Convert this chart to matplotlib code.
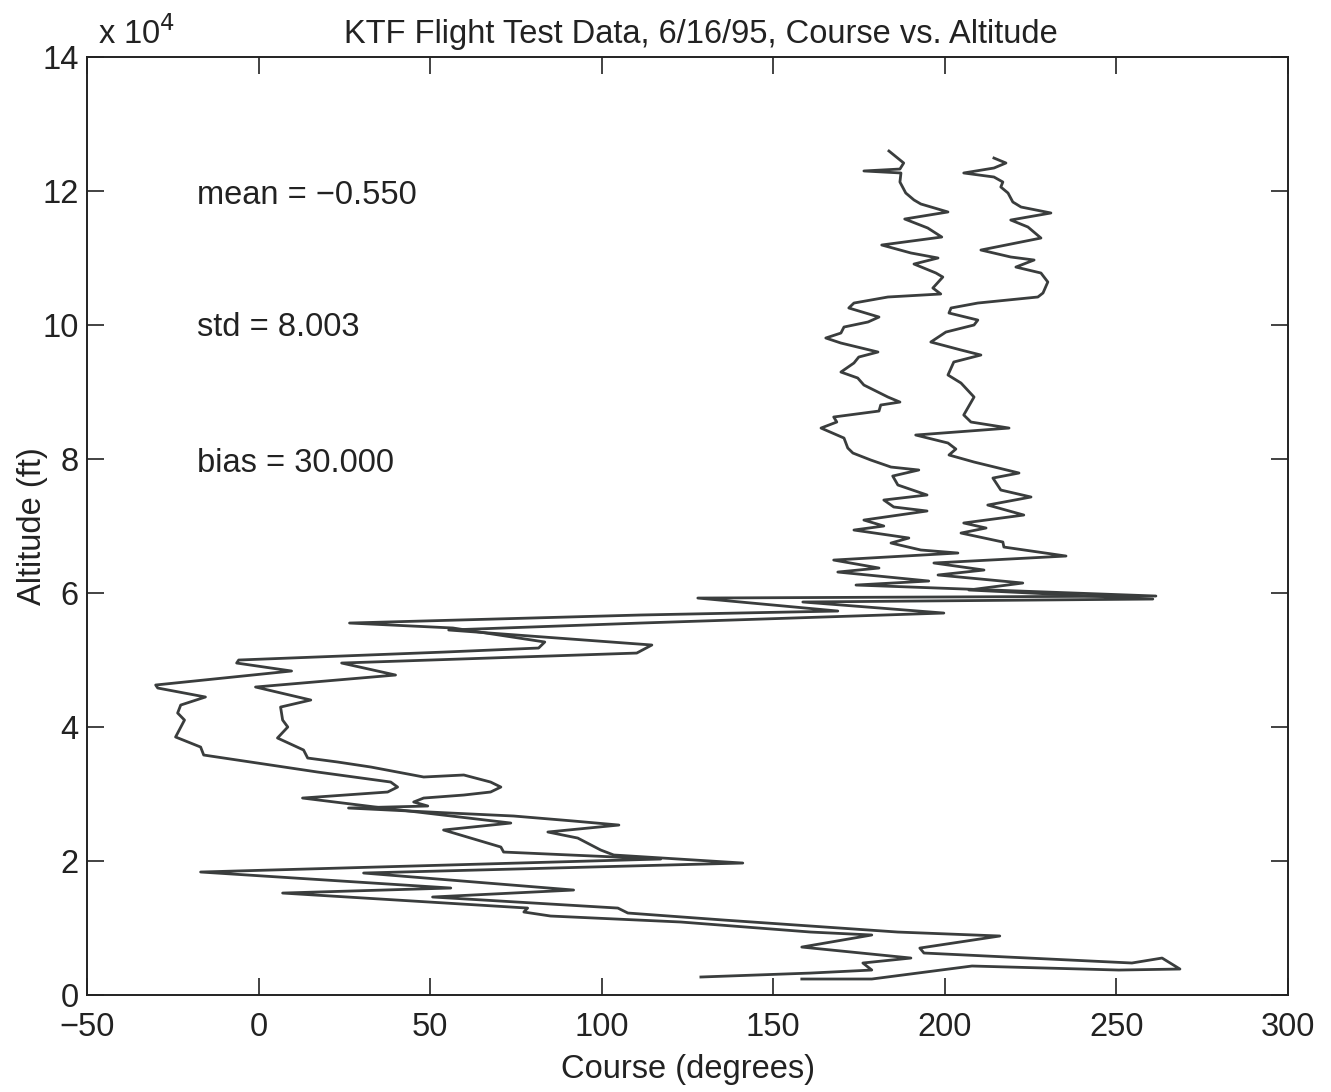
import matplotlib
matplotlib.use("Agg")
import matplotlib.pyplot as plt

plt.rcParams["font.family"] = ["Liberation Sans", "DejaVu Sans"]

# course (deg) and altitude (ft), top of climb first
course_a = [183.7, 188.0, 186.9, 176.4, 187.2, 186.9, 188.6, 191.0, 193.0, 200.9,
            188.3, 195.0, 199.1, 181.6, 190.1, 198.0, 191.0, 197.4, 199.4, 196.5,
            198.8, 183.4, 173.5, 172.0, 180.8, 177.6, 170.6, 169.7, 165.3, 169.7,
            180.5, 174.9, 173.5, 169.7, 174.6, 176.4, 183.4, 186.9, 181.3, 180.8,
            167.6, 168.5, 163.9, 170.6, 171.7, 173.2, 178.4, 184.3, 192.4, 184.8,
            186.3, 194.8, 182.2, 185.1, 194.8, 176.4, 182.2, 173.5, 189.5, 184.3,
            193.0, 203.8, 167.6, 180.8, 168.8, 195.3, 174.1, 261.5, 128.0, 168.8,
            111.4, 26.5, 56.6, 83.4, 81.6, 54.2, -5.8, -6.4, 9.6, -30.0,
            -29.4, -15.5, -22.7, -23.6, -21.6, -24.2, -16.9, -16.0, 3.5, 17.2,
            38.5, 40.5, 37.6, 12.8, 36.4, 73.5, 53.9, 70.6, 71.4, 117.2,
            -16.9, 56.0, 7.0, 78.4, 77.3, 85.1, 123.0, 160.9, 178.7, 158.3,
            190.1, 176.1, 178.7, 160.9, 128.9]
alt_a = [125970, 124180, 123280, 122990, 122690, 121340, 119700, 118660, 118060, 116870,
         115820, 114480, 113130, 111940, 110750, 110000, 109100, 107760, 107160, 105520,
         104630, 104180, 103280, 102540, 101190, 100450, 99700, 98800, 98060, 97310,
         95970, 95220, 94330, 92980, 92090, 91040, 89250, 88500, 88060, 87160,
         86270, 85520, 84620, 83130, 81640, 80890, 79850, 78800, 78360, 77460,
         76120, 74630, 73880, 72840, 72240, 70890, 70000, 69400, 68210, 67460,
         66420, 65970, 64920, 63730, 63130, 61790, 61190, 59550, 59250, 57310,
         56720, 55520, 54780, 52690, 51790, 51190, 50000, 49550, 48360, 46270,
         45820, 44480, 43280, 42090, 41040, 38510, 37010, 35820, 34330, 33280,
         31790, 31040, 30300, 29400, 27910, 25670, 24630, 22090, 21340, 20300,
         18360, 15970, 15220, 12980, 12390, 11790, 10900, 9400, 8960, 7160,
         5520, 4780, 3730, 3280, 2690]

course_b = [214.3, 217.8, 214.3, 205.5, 214.3, 216.9, 216.3, 218.4, 219.8, 222.2,
            230.9, 219.2, 224.2, 228.0, 210.5, 219.2, 226.0, 220.7, 228.0, 230.0,
            228.6, 227.1, 209.6, 201.8, 201.2, 209.6, 208.5, 200.3, 195.9, 204.7,
            210.5, 202.6, 200.9, 204.7, 208.5, 205.5, 207.6, 218.7, 191.5, 200.9,
            203.2, 201.2, 208.5, 221.6, 214.0, 216.3, 225.1, 212.5, 223.0, 205.5,
            212.0, 204.7, 216.9, 217.2, 235.3, 196.8, 211.4, 198.0, 222.7, 207.0,
            260.6, 158.6, 199.7, 111.4, 55.4, 114.6, 110.2, 24.2, 39.9, -0.9,
            15.2, 6.4, 7.0, 8.5, 5.5, 13.1, 14.3, 23.0, 32.7, 48.1,
            59.8, 67.6, 70.6, 67.6, 59.8, 48.1, 45.2, 49.3, 26.2, 56.0,
            74.3, 91.8, 105.0, 84.3, 93.0, 99.7, 103.5, 141.1, 30.6, 91.8,
            50.7, 104.7, 107.6, 135.6, 186.3, 216.0, 192.7, 193.9, 254.5, 263.3,
            268.5, 250.7, 207.9, 178.7, 158.3]
alt_b = [124920, 124180, 123430, 122690, 122090, 121340, 120600, 119700, 118360, 117610,
         116720, 115670, 114630, 112980, 111190, 110150, 109700, 108650, 107760, 106420,
         104780, 104180, 103280, 102540, 101790, 100740, 100000, 98950, 97460, 96270,
         95520, 94480, 92540, 91340, 89250, 86570, 85520, 84620, 83580, 82390,
         81490, 80600, 79550, 77910, 77160, 75370, 74330, 73130, 71640, 70450,
         69700, 68950, 67610, 66860, 65520, 64480, 63430, 62690, 61490, 60450,
         59100, 58660, 57010, 55520, 54480, 52240, 51040, 49550, 47760, 45970,
         44030, 42980, 41040, 40000, 38360, 36570, 35370, 34780, 34030, 32540,
         32840, 31790, 31040, 30300, 29850, 29400, 28810, 28210, 27910, 27160,
         26720, 25970, 25370, 24330, 23430, 21640, 20900, 19700, 18210, 15670,
         14630, 12980, 12240, 11190, 9400, 8810, 7010, 6270, 4780, 5520,
         3880, 3730, 4330, 2390, 2390]

x_ticks = [-50, 0, 50, 100, 150, 200, 250, 300]
y_ticks = [0, 20000, 40000, 60000, 80000, 100000, 120000, 140000]
y_ticklabels = ["0", "2", "4", "6", "8", "10", "12", "14"]

stats = [("mean = \u22120.550", 119400), ("std = 8.003", 99600), ("bias = 30.000", 79400)]

fs = 23.5
ink = "#222222"

fig = plt.figure(figsize=(13.31, 10.92), dpi=100)
ax = fig.add_axes([0.0654, 0.0888, 0.9023, 0.859])

line_color = "#3a3d3d"
ax.plot(course_a, alt_a, color=line_color, lw=2.0)
ax.plot(course_b, alt_b, color=line_color, lw=2.0)

ax.set_xlim(-50, 300)
ax.set_ylim(0, 140000)
ax.set_xticks(x_ticks)
ax.set_yticks(y_ticks)
ax.set_yticklabels(y_ticklabels)
ax.tick_params(direction="in", length=12, width=1.2, top=True, right=True,
               labelsize=fs, colors=ink)
ax.tick_params(axis="x", pad=12)
ax.tick_params(axis="y", pad=6)
for s in ax.spines.values():
    s.set_linewidth(1.4)
    s.set_color(ink)

for label, y in stats:
    ax.text(-18, y, label, fontsize=fs, va="center", ha="left", color=ink)

ax.set_title("KTF Flight Test Data, 6/16/95, Course vs. Altitude", fontsize=fs,
             pad=10, color=ink, x=0.511)
ax.set_xlabel("Course (degrees)", fontsize=fs, labelpad=8, color=ink)
ax.set_ylabel("Altitude (ft)", fontsize=fs, labelpad=-4, color=ink)
ax.text(0.009, 1.006, "x 10$^{4}$", transform=ax.transAxes, fontsize=fs,
        ha="left", va="bottom", color=ink)

fig.savefig("out.png", dpi=100)
